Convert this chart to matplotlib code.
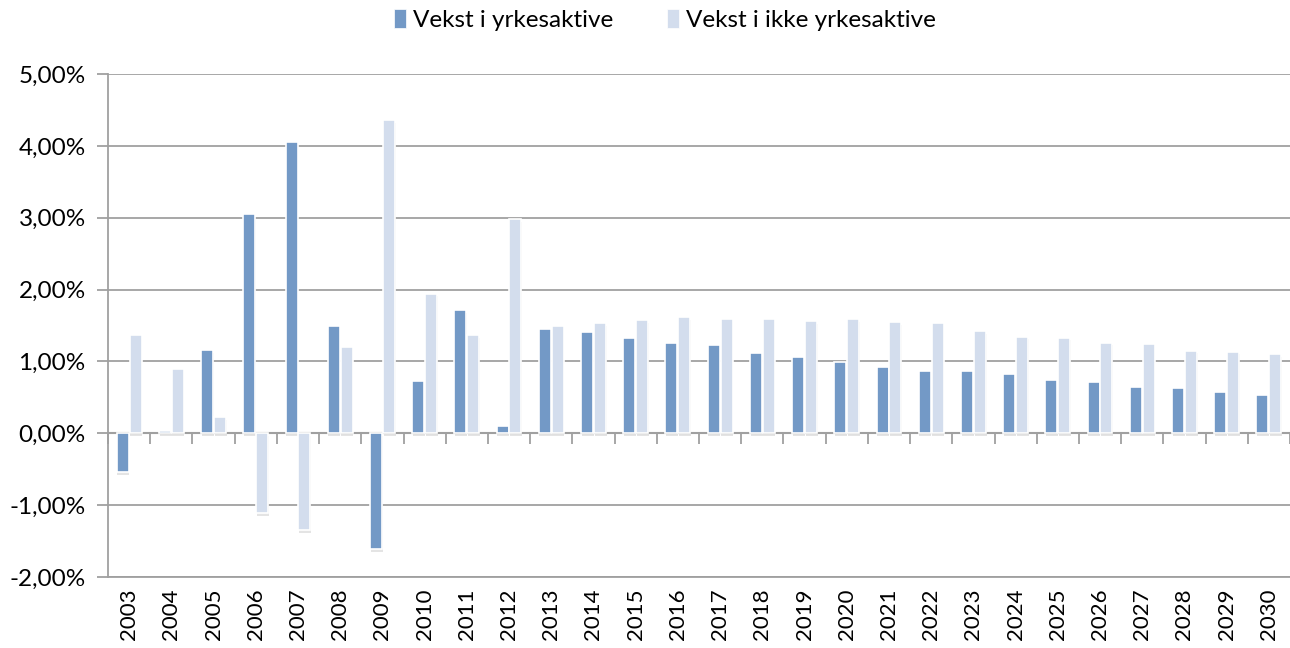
import matplotlib
matplotlib.use("Agg")
import matplotlib.pyplot as plt
import matplotlib.patheffects as pe
from matplotlib.patches import Patch
from matplotlib.ticker import FuncFormatter, FixedLocator
import numpy as np

years = [str(y) for y in range(2003, 2031)]
yrkesaktive = [-0.535, 0.033, 1.153, 3.047, 4.05, 1.493, -1.609, 0.73, 1.712, 0.098,
               1.453, 1.416, 1.332, 1.262, 1.224, 1.117, 1.06, 0.99, 0.916, 0.864,
               0.864, 0.827, 0.738, 0.72, 0.65, 0.631, 0.575, 0.537]
ikke_yrkesaktive = [1.367, 0.90, 0.228, -1.107, -1.349, 1.195, 4.353, 1.944, 1.367, 2.98,
                    1.49, 1.533, 1.57, 1.617, 1.584, 1.584, 1.565, 1.584, 1.547, 1.533,
                    1.42, 1.346, 1.332, 1.262, 1.243, 1.15, 1.136, 1.098]
series_names = ["Vekst i yrkesaktive", "Vekst i ikke yrkesaktive"]
y_ticks = [-2, -1, 0, 1, 2, 3, 4, 5]

plt.rcParams['font.family'] = ['Lato', 'DejaVu Sans']

dark = '#7399C6'
light = '#D3DDED'
grid_c = '#A0A0A0'

fig = plt.figure(figsize=(12.9, 6.48), dpi=100)
ax = fig.add_axes([108/1290, 1-577/648, 1-108/1290, (577-74)/648])

x = np.arange(len(years))
w = 0.285
shadow = [pe.SimplePatchShadow(offset=(0.5, -2.0), shadow_rgbFace='#888888', alpha=0.22), pe.Normal()]
b1 = ax.bar(x - w/2 - 0.01, yrkesaktive, w, color=dark, edgecolor='white', linewidth=1.2,
            zorder=3)
b2 = ax.bar(x + w/2 + 0.01, ikke_yrkesaktive, w, color=light, edgecolor='white', linewidth=1.2,
            zorder=3)
for b in list(b1) + list(b2):
    b.set_path_effects(shadow)

ax.set_xlim(-0.5, len(years) - 0.5)
ax.set_ylim(-2, 5)
ax.yaxis.set_major_locator(FixedLocator(y_ticks))
ax.yaxis.set_major_formatter(FuncFormatter(lambda v, p: f"{v:.2f}%".replace('.', ',')))
ax.grid(axis='y', color=grid_c, linewidth=1.3, zorder=0)
ax.set_axisbelow(True)
ax.axhline(0, color=grid_c, linewidth=1.5, zorder=2)

for s in ['top', 'right']:
    ax.spines[s].set_visible(False)
ax.spines['left'].set_color(grid_c)
ax.spines['left'].set_linewidth(1.3)
ax.spines['bottom'].set_color(grid_c)
ax.spines['bottom'].set_linewidth(1.3)

ax.set_xticks(x)
ax.set_xticklabels(years, rotation=90, fontsize=16)
ax.tick_params(axis='x', length=0, pad=8)
ax.tick_params(axis='y', direction='out', length=8, color=grid_c, width=1.3, labelsize=17.5, pad=8)

# boundary ticks on the zero line
sec = ax.secondary_xaxis(2/7)
sec.set_xticks(np.arange(len(years) + 1) - 0.5)
sec.set_xticklabels([])
sec.tick_params(axis='x', direction='out', length=8, color=grid_c, width=1.3)
sec.spines['bottom'].set_visible(False)
sec.spines['top'].set_visible(False)

handles = [Patch(facecolor=dark, edgecolor='white', linewidth=0.5),
           Patch(facecolor=light, edgecolor='white', linewidth=0.5)]
leg = fig.legend(handles=handles, labels=series_names, loc='center', ncol=2,
                 bbox_to_anchor=(665/1290, 1-20/648), frameon=False, fontsize=17.5,
                 handlelength=0.5, handleheight=0.8, handletextpad=0.3, columnspacing=2.2)

fig.savefig('out.png', dpi=100)
